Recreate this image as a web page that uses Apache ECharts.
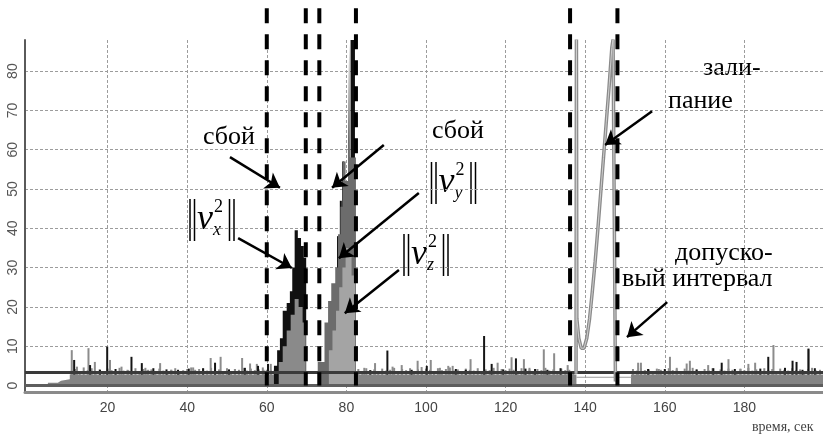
<!DOCTYPE html>
<html>
<head>
<meta charset="utf-8">
<script src="https://cdn.jsdelivr.net/npm/echarts@6/dist/echarts.min.js"></script>
<style>
  html, body { margin: 0; background: #fff; }
  #chart { width: 823px; height: 443px; }
</style>
</head>
<body>
<div id="chart"></div>
<script>
// small noise just above the tolerance line, one value per second from 11 s to 199 s
const noiseStart = 11
const noiseV = [
  3.8, 4.2, 3.5, 4.6, 3.9, 4.4, 3.6, 4.1, 3.7, 4.3,
  3.9, 3.4, 4.5, 3.8, 4.0, 3.6, 4.4, 3.5, 4.2, 3.9,
  4.1, 3.6, 4.3, 3.8, 3.5, 4.0, 4.4, 3.7, 3.9, 4.2,
  4.6, 4.0, 3.6, 4.3, 3.8, 4.5, 3.9, 4.1, 3.7, 4.4,
  3.6, 4.2, 4.0, 4.5, 3.8, 4.3, 3.9, 4.1, 4.6, 4.0,
  4.0, 4.0, 4.0, 4.0, 4.0, 4.0, 4.0, 4.0, 4.0,
  0, 0, 0, 0,
  4.0, 4.0, 4.0, 4.0, 4.0, 4.0, 4.0, 4.0, 4.0,
  4.2, 3.7, 4.4, 3.9, 4.1, 3.6, 4.3, 3.8,
  4.0, 4.5, 3.7, 4.2, 3.9, 4.4, 3.6, 4.1, 3.8, 4.3,
  4.0, 3.7, 4.4, 3.9, 4.2, 4.6, 3.8, 4.1, 3.6, 4.3,
  4.0, 3.8, 4.4, 3.7, 4.1, 3.9, 4.5, 3.6, 4.2, 3.9,
  4.3, 4.0, 3.7, 4.4, 3.8, 4.1, 3.6, 4.2, 3.9, 4.5,
  3.8, 4.1, 3.7, 4.3, 3.9, 4.0, 3.6,
  0, 0, 0, 0, 0, 0, 0, 0, 0, 0, 0, 0, 0, 0,
  4.2, 3.8, 4.4, 3.9, 4.1, 3.7, 4.3, 4.0, 3.6,
  4.4, 3.9, 4.1, 3.7, 4.3, 3.8, 4.5, 4.0, 3.6, 4.2,
  3.9, 4.4, 3.7, 4.1, 3.8, 4.3, 4.0, 3.6, 4.2, 3.9,
  4.5, 3.8, 4.1, 3.7, 4.4, 3.9, 4.2, 3.6, 4.3, 4.0,
  3.8, 4.4, 3.9, 4.1, 3.7, 4.2, 4.5, 3.8, 4.0
]

// dense floor of the signals (step levels)
const floorT = [5, 7.5, 8.3, 10.5, 70, 74, 137.8, 151.5, 199.75]
const floorV = [0.7, 1.2, 1.6, 2.8, 0, 2.8, 0, 2.8, 2.8]

// horizontal reference lines
const zeroT = [-0.75, 199.75]
const zeroV = [0, 0]
const tolT = [-0.75, 199.75]
const tolV = [3.3, 3.3]
const gapT = [137.8, 151.7]
const gapV = [2.1, 2.1]

// isolated spikes
const grayT = [11.0, 12.3, 15.2, 16.8, 20.6, 23.5, 25.2, 29.5, 30.2, 33.2, 36.0, 41.5, 43.0, 45.9, 48.4, 52.0, 53.8, 55.8, 57.5, 59.2, 61.0,
  84.5, 87.2, 91.6, 93.9, 97.9, 98.9, 101.2, 103.5, 105.6, 106.7, 111.2, 118.0, 121.5, 124.6, 126.0, 129.6, 132.2, 135.6,
  153.3, 154.0, 158.5, 161.3, 163.0, 165.5, 166.3, 170.9, 176.0, 179.0, 181.0, 182.7, 187.3, 196.1]
const grayV = [9, 4.8, 9.5, 6, 6.5, 4.8, 3.9, 4.5, 4, 5.7, 4, 4.6, 4.2, 7, 7.3, 4.2, 7, 5.6, 5.5, 4, 5.5,
  4.5, 5.7, 4.8, 5.2, 6.3, 4.7, 6.5, 4.5, 5, 5, 6.7, 5.8, 7.2, 6.7, 4.5, 9.2, 8.2, 5.2,
  5.8, 5.8, 4.2, 7.3, 4.5, 5.6, 6.3, 5.2, 6.7, 4.3, 5.5, 5.8, 10.3, 9.2]
const blackT = [11.6, 15.6, 18.1, 19.9, 22.0, 26.0, 28.6, 31.5, 34.8, 37.7, 40.4, 44.0, 47.0, 50.5, 54.5, 57.8, 60.3,
  86.0, 90.3, 96.4, 100.2, 107.5, 110.0, 114.6, 116.5, 119.4, 122.6, 125.0, 127.4, 130.5, 133.8,
  155.8, 160.0, 168.0, 172.2, 174.3, 177.6, 184.0, 186.0, 190.2, 192.1, 193.1, 194.6, 196.1, 197.7]
const blackV = [6.5, 5.2, 4, 9.9, 4.2, 7.3, 5.7, 4.4, 4.1, 4, 4.3, 4.4, 5.8, 4.1, 4.5, 5, 5.5,
  3.9, 8.9, 4, 5, 4.2, 4, 12.6, 5.5, 4.1, 6.9, 4.3, 4.2, 4, 4.4,
  4.2, 4.2, 4.1, 4.4, 5.8, 4.2, 4.3, 7.3, 4.5, 6.3, 6, 4, 9.4, 4.4]

// failure bursts
const vxBurstT = [61.8, 62.6, 63.3, 64.0, 65.0, 65.8, 66.4, 67.0, 67.8, 68.6, 69.3, 69.9]
const vxBurstV = [5, 9, 12, 19, 21, 24, 30, 39.5, 37.5, 35.5, 32.5, 0]
const burst1GrayT = [63.0, 64.0, 65.0, 66.0, 67.0, 68.0, 69.0, 69.8]
const burst1GrayV = [6, 10, 14, 18, 22, 20, 16, 0]
const vyBurstT = [72.8, 74.5, 75.4, 76.2, 77.2, 77.9, 78.5, 79.1, 79.8, 80.4, 80.7, 80.9, 82.4]
const vyBurstV = [6, 16, 21.5, 26, 30, 38.5, 45.5, 57, 52, 62, 87, 58, 0]
const vzBurstT = [75.6, 76.5, 77.4, 78.2, 79.0, 79.8, 80.6, 81.3, 82.2]
const vzBurstV = [9, 14, 19, 25, 30, 35, 33, 28, 0]
const burst2PeakT = [77.9, 78.6, 79.2, 80.1, 81.3, 81.6, 81.9]
const burst2PeakV = [38, 47, 57, 51, 88, 88, 88]

// sticking sensor
const stickT = [137.7, 137.8, 137.9, 138.4, 139.0, 139.7, 140.4, 141.1, 141.8, 142.5, 143.2, 143.9, 144.6, 145.3, 146.0, 146.7, 147.0, 147.5, 147.6]
const stickV = [3, 88, 17, 12, 9.5, 9.5, 12, 17, 24, 31.5, 40, 49, 58, 67, 76, 86, 88, 88, 1]

// dashed markers
const cutT = [60, 69.8, 73.2, 82.4, 136.2, 148.1]
const cutTop = 96
const cutBottom = 0

// annotation arrows (data coordinates)
const arrowFromT = [50.75, 52.8, 89.4, 98.2, 93.2, 156.8, 160.6]
const arrowFromV = [58.1, 37.5, 61.2, 49, 29.4, 69.8, 21.2]
const arrowToT = [63.3, 66.3, 76.4, 78.1, 79.6, 145, 150.5]
const arrowToV = [50.3, 29.9, 50.3, 32.4, 18.4, 61.2, 12.3]

const pairs = (t, v) => t.map((x, i) => [x, v[i]])

const spikes = (t, v, color) => ({
  type: 'bar', xAxisIndex: 0, yAxisIndex: 0, barWidth: 2, barGap: '-100%',
  itemStyle: { color }, silent: true, data: pairs(t, v)
})
const stepArea = (t, v, color) => ({
  type: 'line', xAxisIndex: 0, yAxisIndex: 0, step: 'end', symbol: 'none', silent: true,
  lineStyle: { width: 0 }, areaStyle: { color, opacity: 1 }, data: pairs(t, v)
})
const plainLine = (t, v, color, width) => ({
  type: 'line', xAxisIndex: 0, yAxisIndex: 0, symbol: 'none', silent: true,
  lineStyle: { color, width }, data: pairs(t, v)
})

const noiseT = noiseV.map((_, i) => noiseStart + i)

const series = [
  spikes(noiseT, noiseV, '#8a8a8a'),
  stepArea(floorT, floorV, '#848484'),
  plainLine(zeroT, zeroV, '#5e5e5e', 3),
  plainLine(gapT, gapV, '#9a9a9a', 1),
  spikes(grayT, grayV, '#8c8c8c'),
  spikes(blackT, blackV, '#151515'),
  plainLine(tolT, tolV, '#3a3a3a', 3),
  stepArea(vxBurstT, vxBurstV, '#111'),
  stepArea(burst1GrayT, burst1GrayV, '#8a8a8a'),
  stepArea(vyBurstT, vyBurstV, '#6c6c6c'),
  spikes(burst2PeakT, burst2PeakV, '#111'),
  stepArea(vzBurstT, vzBurstV, '#a4a4a4'),
  plainLine(stickT, stickV, '#8a8a8a', 3.5),
  plainLine(stickT, stickV, '#cfcfcf', 1)
]

cutT.forEach(t => {
  series.push({
    type: 'line', xAxisIndex: 0, yAxisIndex: 0, symbol: 'none', silent: true, clip: false,
    lineStyle: { color: '#000', width: 4, type: [15, 11] },
    data: [[t, cutTop], [t, cutBottom]]
  })
})

series.push({
  type: 'line', xAxisIndex: 0, yAxisIndex: 0, data: [], silent: true,
  markLine: {
    silent: true, symbol: ['none', 'arrow'], symbolSize: 14,
    label: { show: false },
    lineStyle: { color: '#000', width: 2.5, type: 'solid' },
    emphasis: { disabled: true },
    data: arrowFromT.map((t, i) => [
      { coord: [t, arrowFromV[i]] },
      { coord: [arrowToT[i], arrowToV[i]] }
    ])
  }
})

// ||v_i^2|| labels, drawn as little formula groups
const serif = 'Liberation Serif'
const norm = (x, y, sub) => ({
  type: 'group', x, y, silent: true,
  children: [
    { type: 'line', shape: { x1: 0, y1: 0, x2: 0, y2: 42 }, style: { stroke: '#000', lineWidth: 1.5 } },
    { type: 'line', shape: { x1: 4.5, y1: 0, x2: 4.5, y2: 42 }, style: { stroke: '#000', lineWidth: 1.5 } },
    { type: 'text', x: 7, y: 21, style: { text: 'ν', font: 'italic 36px "' + serif + '"', fill: '#000', verticalAlign: 'middle' } },
    { type: 'text', x: 24, y: 8, style: { text: '2', font: '18px "' + serif + '"', fill: '#000', verticalAlign: 'middle' } },
    { type: 'text', x: 23, y: 31, style: { text: sub, font: 'italic 18px "' + serif + '"', fill: '#000', verticalAlign: 'middle' } },
    { type: 'line', shape: { x1: 39.5, y1: 0, x2: 39.5, y2: 42 }, style: { stroke: '#000', lineWidth: 1.5 } },
    { type: 'line', shape: { x1: 44, y1: 0, x2: 44, y2: 42 }, style: { stroke: '#000', lineWidth: 1.5 } }
  ]
})

const note = (text, x, y) => ({
  type: 'text', x, y, silent: true,
  style: { text, font: '26px "' + serif + '"', fill: '#000', verticalAlign: 'middle' }
})

const chart = echarts.init(document.getElementById('chart'), null, { renderer: 'canvas' })

const gridLine = { show: true, lineStyle: { color: '#9c9c9c', width: 1, type: [3, 2] } }

chart.setOption({
  animation: false,
  backgroundColor: '#fff',
  grid: [
    { left: 25, right: 0, top: 40, bottom: 51 },
    { left: 25, right: 0, top: 71.1, bottom: 57.5 },
    { left: 28, right: 0.6, top: 40, bottom: 51 }
  ],
  xAxis: [
    {
      gridIndex: 0, type: 'value', min: -0.75, max: 199.75,
      axisLine: { onZero: false, lineStyle: { color: '#8a8a8a', width: 3 } },
      axisTick: { show: false }, axisLabel: { show: false }, splitLine: { show: false }
    },
    { gridIndex: 1, type: 'value', min: 0, max: 1, show: false },
    {
      gridIndex: 2, type: 'value', min: 0, max: 199.6, interval: 20,
      axisLine: { show: false }, axisTick: { show: false },
      axisLabel: {
        showMinLabel: false, showMaxLabel: false, margin: 9,
        color: '#444', fontSize: 14, fontFamily: 'Liberation Sans'
      },
      splitLine: Object.assign({ showMinLine: false, showMaxLine: false }, gridLine)
    }
  ],
  yAxis: [
    {
      gridIndex: 0, type: 'value', min: -1.65, max: 87.9,
      axisLine: { show: true, onZero: false, lineStyle: { color: '#5a5a5a', width: 2 } },
      axisTick: { show: false }, axisLabel: { show: false }, splitLine: { show: false }
    },
    {
      gridIndex: 1, type: 'value', min: 0, max: 80, interval: 10,
      axisLine: { show: false }, axisTick: { show: false },
      axisLabel: { rotate: 90, margin: 5, color: '#555', fontSize: 14, fontFamily: 'Liberation Sans' },
      splitLine: Object.assign({ showMinLine: false }, gridLine)
    },
    { gridIndex: 2, type: 'value', min: 0, max: 1, show: false }
  ],
  series,
  graphic: [
    note('сбой', 203, 137),
    note('сбой', 432, 131),
    note('зали-', 703, 68),
    note('пание', 668, 101),
    note('допуско-', 675, 253),
    note('вый интервал', 622, 279),
    norm(190, 199, 'x'),
    norm(431.5, 162, 'y'),
    norm(404, 234, 'z'),
    {
      type: 'text', x: 752, y: 427, silent: true,
      style: { text: 'время, сек', font: '14px "' + serif + '"', fill: '#444', verticalAlign: 'middle' }
    }
  ]
})
</script>
</body>
</html>
